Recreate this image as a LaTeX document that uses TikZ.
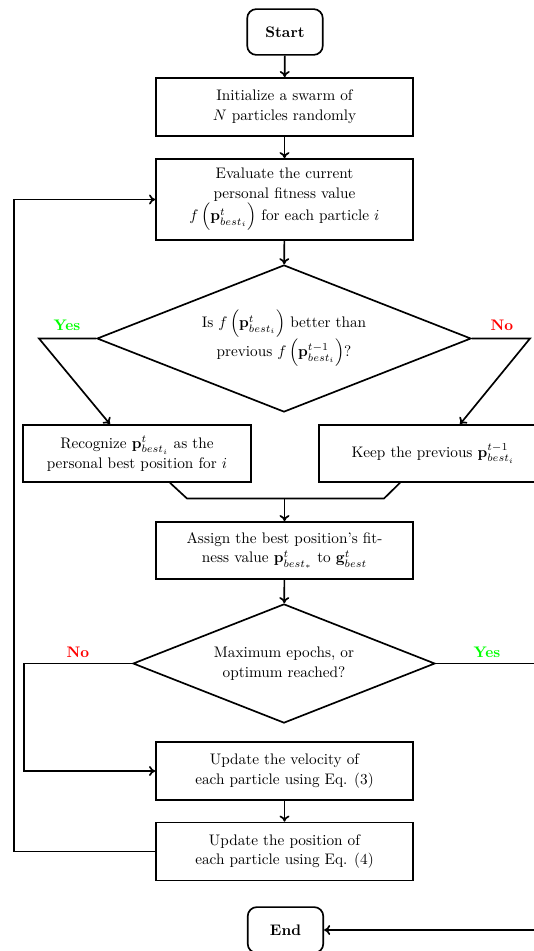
\documentclass[tikz,border=0pt]{standalone}
\usepackage{amsmath}
\usetikzlibrary{shapes.geometric,arrows.meta}
\begin{document}
\begin{tikzpicture}[x=0.655pt,y=-0.655pt,
  line width=1.1pt,
  every node/.style={font=\fontsize{10}{13}\selectfont},
  proc/.style={draw,rectangle,align=center,minimum width=168.3pt,minimum height=38pt,inner sep=2pt},
  term/.style={draw,rectangle,rounded corners=6pt,font=\fontsize{10}{13}\selectfont\bfseries,minimum width=49.5pt,minimum height=30pt},
  decision/.style={draw,diamond,aspect=2.54,align=center,inner sep=0pt},
  arr/.style={-{To[length=4pt,width=6.5pt]}},
  yeslab/.style={font=\fontsize{10}{13}\selectfont\bfseries,text=green},
  nolab/.style={font=\fontsize{10}{13}\selectfont\bfseries,text=red}]
\useasboundingbox (0,0) rectangle (534,951);
\node[term] (start) at (285,32) {Start};
\node[proc] (init) at (284.5,107) {Initialize a swarm of\\$N$ particles randomly};
\node[proc,minimum height=53pt] (eval) at (284.5,199.5) {Evaluate the current\\personal fitness value\\$f\,\Big(\mathbf{p}^{t}_{best_i}\Big)$ for each particle $i$};
\node[decision,minimum width=245pt,minimum height=96.3pt] (d1) at (284,338.5) {Is $f\,\Big(\mathbf{p}^{t}_{best_i}\Big)$ better than\\previous $f\,\Big(\mathbf{p}^{t-1}_{best_i}\Big)$?};
\node[proc,minimum width=149.3pt,minimum height=37.3pt] (rec) at (137,453.5) {Recognize $\mathbf{p}^{t}_{best_i}$ as the\\personal best position for $i$};
\node[proc,minimum width=149.3pt,minimum height=37.3pt] (keep) at (433,453.5) {Keep the previous $\mathbf{p}^{t-1}_{best_i}$};
\node[proc,minimum height=37.3pt] (assign) at (284.5,550.5) {Assign the best position's fit-\\ness value $\mathbf{p}^{t}_{best_*}$ to $\mathbf{g}^{t}_{best}$};
\node[decision,minimum width=197.8pt,minimum height=78pt] (d2) at (284,663.5) {Maximum epochs, or\\optimum reached?};
\node[proc] (vel) at (284.5,771) {Update the velocity of\\each particle using Eq. (3)};
\node[proc] (pos) at (284.5,851.5) {Update the position of\\each particle using Eq. (4)};
\node[term] (end) at (285.5,930) {End};
\node[yeslab] (ly1) at (67,325) {Yes};
\node[nolab] (ln1) at (502,325) {No};
\node[nolab] (ln2) at (78,652) {No};
\node[yeslab] (ly2) at (487,652) {Yes};
\coordinate (yl) at (39,338.5);
\coordinate (nr) at (530,338.5);
\coordinate (ya) at (110,0);
\coordinate (na) at (460,0);
\coordinate (ra) at (170,0);
\coordinate (ka) at (400,0);
\coordinate (m1) at (187,498.5);
\coordinate (m2) at (384,498.5);
\coordinate (m) at (284.5,498.5);
\coordinate (nl) at (24,663.5);
\coordinate (yr) at (548,663.5);
\coordinate (lp) at (14,851.5);
\draw[arr] (start) -- (init);
\draw[arr] (init) -- (eval);
\draw[arr] (eval) -- (d1);
\draw[arr] (d1.west) -- (yl) -- (ya |- rec.north);
\draw[arr] (d1.east) -- (nr) -- (na |- keep.north);
\draw (ra |- rec.south) -- (m1) -- (m2) -- (ka |- keep.south);
\draw[arr] (m) -- (assign);
\draw[arr] (assign) -- (d2);
\draw[arr] (d2.west) -- (nl) |- (vel.west);
\draw[arr] (d2.east) -- (yr) |- (end.east);
\draw[arr] (vel) -- (pos);
\draw[arr] (pos.west) -- (lp) |- (eval.west);
\end{tikzpicture}
\end{document}
